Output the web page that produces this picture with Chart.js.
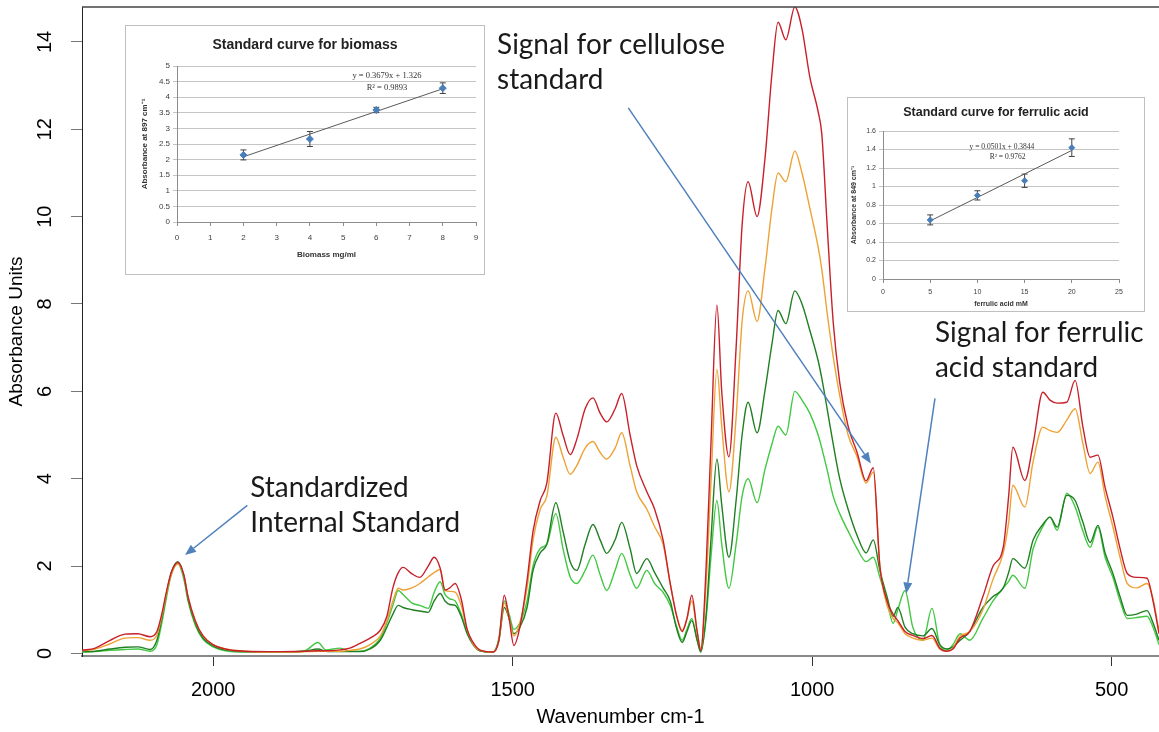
<!DOCTYPE html>
<html><head><meta charset="utf-8">
<script src="https://cdn.jsdelivr.net/npm/chart.js@4.4.1/dist/chart.umd.min.js"></script>
<style>
html,body{margin:0;padding:0;background:#fff;overflow:hidden}
#wrap{position:relative;width:1159px;height:732px}
canvas{position:absolute;display:block}
</style></head><body>
<div id="wrap">
<canvas id="main" width="1159" height="732" style="left:0;top:0"></canvas>
<canvas id="bio" width="360" height="250" style="left:125px;top:25px"></canvas>
<canvas id="fer" width="298" height="215" style="left:847px;top:97px"></canvas>
</div>
<script>
// ---------- main spectrum data (wavenumber, cm-1) ----------
const wavenumbers = [
 2219,2197,2172,2147,2126,2105,2094,2085,2079,2070,
 2059,2049,2042,2030,2017,2000,1980,1947,1888,1847,
 1825,1812,1788,1772,1755,1738,1721,1710,1700,1691,
 1683,1668,1655,1641,1631,1621,1613,1605,1596,1586,
 1576,1566,1555,1533,1523,1514,1506,1498,1488,1476,
 1466,1454,1443,1428,1416,1404,1393,1379,1366,1354,
 1343,1329,1318,1304,1293,1276,1263,1249,1237,1227,
 1217,1209,1201,1192,1186,1177,1169,1159,1151,1139,
 1127,1117,1107,1092,1079,1067,1057,1044,1029,1017,
 1004,990,984,975,965,954,940,925,910,898,
 887,875,865,857,845,832,815,800,787,775,
 765,753,737,715,698,681,672,665,645,631,
 615,603,591,575,561,548,536,523,511,498,
 486,474,458,441,431,421];
const redSpectrum = [
 0.07,0.12,0.30,0.44,0.45,0.38,0.50,0.95,1.35,1.85,
 2.08,1.80,1.30,0.75,0.40,0.20,0.10,0.05,0.04,0.05,
 0.06,0.06,0.08,0.12,0.23,0.35,0.53,0.85,1.50,1.85,
 1.97,1.82,1.74,2.00,2.20,1.95,1.45,1.50,1.60,1.25,
 0.55,0.25,0.08,0.03,0.30,1.33,0.80,0.18,0.60,1.67,
 2.80,3.50,3.90,5.50,5.00,4.55,4.90,5.60,5.85,5.50,
 5.30,5.60,5.95,5.00,4.30,3.70,3.30,2.60,1.60,0.90,
 0.50,0.80,1.33,0.50,0.07,2.00,4.80,7.97,6.00,4.50,
 7.00,9.80,10.80,10.00,11.30,13.30,14.45,14.05,14.80,14.30,
 13.20,12.40,11.90,9.80,7.60,6.20,5.20,4.60,3.95,4.25,
 2.00,1.20,0.90,0.75,0.50,0.41,0.34,0.41,0.12,0.05,
 0.10,0.35,0.50,1.30,2.00,2.43,3.60,4.72,3.96,4.80,
 5.98,5.80,5.73,5.75,6.25,5.18,4.49,4.54,3.80,3.12,
 2.40,1.83,1.74,1.72,1.20,0.45];
const orangeSpectrum = [
 0.06,0.10,0.22,0.35,0.36,0.30,0.42,0.90,1.30,1.80,
 2.05,1.78,1.30,0.75,0.40,0.20,0.10,0.05,0.03,0.04,
 0.05,0.05,0.05,0.07,0.10,0.20,0.40,0.75,1.20,1.49,
 1.45,1.50,1.60,1.75,1.85,1.92,1.44,1.42,1.40,1.10,
 0.55,0.22,0.07,0.03,0.30,1.15,0.80,0.40,0.70,1.50,
 2.60,3.30,3.60,4.95,4.50,4.10,4.30,4.70,4.85,4.60,
 4.45,4.70,5.05,4.30,3.70,3.30,2.90,2.50,1.60,0.90,
 0.53,0.80,1.20,0.50,0.10,1.60,3.90,6.50,5.20,3.70,
 5.40,7.60,8.30,7.60,8.80,10.20,11.00,10.80,11.50,11.00,
 10.20,9.30,8.80,7.80,6.80,5.90,5.00,4.50,3.90,4.15,
 2.00,1.10,0.80,0.70,0.45,0.35,0.30,0.35,0.10,0.05,
 0.12,0.40,0.50,1.00,1.70,2.30,3.00,3.85,3.35,4.40,
 5.18,5.10,5.06,5.34,5.60,4.80,4.12,4.38,3.60,2.90,
 2.20,1.60,1.50,1.60,1.25,0.50];
const darkGreenSpectrum = [
 0.04,0.05,0.10,0.14,0.15,0.09,0.30,0.85,1.30,1.85,
 2.10,1.78,1.25,0.70,0.35,0.17,0.08,0.04,0.03,0.05,
 0.10,0.05,0.04,0.04,0.04,0.10,0.30,0.60,0.90,1.10,
 1.05,1.00,0.97,0.94,1.20,1.37,1.20,1.12,1.10,0.85,
 0.45,0.20,0.06,0.03,0.30,1.05,0.80,0.45,0.60,1.05,
 1.90,2.30,2.50,3.45,2.80,2.10,1.90,2.50,2.95,2.60,
 2.29,2.60,3.00,2.40,1.83,2.17,1.85,1.50,1.20,0.60,
 0.25,0.50,0.75,0.30,0.03,0.90,2.60,4.45,3.40,2.20,
 3.50,5.00,5.75,5.05,6.00,7.10,7.85,7.55,8.30,8.00,
 7.40,6.70,6.30,5.60,4.80,4.00,3.30,2.70,2.30,2.60,
 1.90,1.30,0.85,1.05,0.60,0.45,0.40,0.57,0.20,0.10,
 0.15,0.30,0.50,1.05,1.30,1.50,1.85,2.17,1.95,2.60,
 2.95,3.12,2.89,3.62,3.50,3.00,2.54,2.93,2.30,1.83,
 1.30,0.87,0.90,0.98,0.70,0.30];
const lightGreenSpectrum = [
 0.03,0.04,0.07,0.09,0.10,0.05,0.20,0.75,1.20,1.80,
 2.05,1.70,1.20,0.65,0.32,0.15,0.06,0.03,0.03,0.06,
 0.25,0.08,0.12,0.05,0.05,0.12,0.35,0.70,1.10,1.44,
 1.35,1.15,1.10,1.03,1.40,1.64,1.35,1.25,1.20,0.90,
 0.50,0.20,0.06,0.03,0.35,1.20,0.90,0.55,0.70,1.20,
 2.00,2.40,2.50,3.20,2.40,1.75,1.60,1.90,2.25,1.80,
 1.44,1.90,2.29,1.80,1.49,1.90,1.60,1.40,1.10,0.65,
 0.30,0.55,0.80,0.30,0.05,0.80,2.20,3.50,2.50,1.49,
 2.50,3.60,4.00,3.45,4.20,4.80,5.20,5.00,6.00,5.80,
 5.50,5.00,4.70,4.20,3.60,3.20,2.80,2.40,2.10,2.20,
 1.74,1.20,0.69,1.00,1.44,0.60,0.30,1.03,0.20,0.07,
 0.20,0.45,0.30,0.80,1.20,1.50,1.65,1.79,1.49,2.40,
 2.90,3.12,2.82,3.67,3.35,2.80,2.43,2.89,2.20,1.74,
 1.20,0.80,0.82,0.85,0.60,0.20];
const xTickValues = [2000,1500,1000,500];
const yTickValues = [0,2,4,6,8,10,12,14];

// annotations (text + arrows), anchored in data units (wavenumber, absorbance)
const annotationLines = [['Signal for cellulose','standard'],['Standardized','Internal Standard'],['Signal for ferrulic','acid standard']];
const annotationAt = [[1526,13.72],[1938,3.57],[795,7.12]];
const arrowFrom = [[1307,12.49],[1943,3.39],[795,5.84]];
const arrowTo = [[902,4.35],[2047,2.25],[843,1.37]];

// ---------- inset: biomass ----------
const biomassConc = [2,4,6,8];
const biomassAbs = [2.15,2.66,3.59,4.29];
const biomassErr = [0.16,0.24,0.085,0.17];
const biomassTrendX = [2,8];
const biomassTrendY = [2.09,4.27];
const biomassXTicks = [0,1,2,3,4,5,6,7,8,9];
const biomassYTicks = [0,0.5,1,1.5,2,2.5,3,3.5,4,4.5,5];
const biomassEquation = ['y = 0.3679x + 1.326','R² = 0.9893'];
const biomassEquationAt = [[6.32,4.70],[6.32,4.31]];

// ---------- inset: ferulic acid ----------
const ferulicConc = [5,10,15,20];
const ferulicAbs = [0.639,0.904,1.062,1.42];
const ferulicErr = [0.054,0.05,0.072,0.095];
const ferulicTrendX = [5,20];
const ferulicTrendY = [0.628,1.39];
const ferulicXTicks = [0,5,10,15,20,25];
const ferulicYTicks = [0,0.2,0.4,0.6,0.8,1,1.2,1.4,1.6];
const ferulicEquation = ['y = 0.0501x + 0.3844','R² = 0.9762'];
const ferulicEquationAt = [[12.6,1.427],[13.2,1.319]];

// ================= main chart =================
const SANS = 'Liberation Sans, Arial, sans-serif';
const plainNum = v => String(Math.round(v*1000)/1000);
function series(label, vals, color){
  return {label, data: wavenumbers.map((w,i)=>({x:w,y:vals[i]})), borderColor:color, borderWidth:1.4,
    pointRadius:0, fill:false, cubicInterpolationMode:'monotone'};
}
const mainOverlay = {
  id:'mainOverlay',
  afterDraw(chart){
    const {ctx, chartArea:a, scales:{x, y}} = chart;
    ctx.save();
    ctx.strokeStyle = '#444'; ctx.lineWidth = 1.5;
    ctx.beginPath(); ctx.moveTo(a.left, a.top); ctx.lineTo(a.right, a.top); ctx.stroke();
    // arrows
    ctx.strokeStyle = '#4f81bd'; ctx.fillStyle = '#4f81bd'; ctx.lineWidth = 1.5;
    arrowFrom.forEach((f,i)=>{
      const x1 = x.getPixelForValue(f[0]), y1 = y.getPixelForValue(f[1]);
      const x2 = x.getPixelForValue(arrowTo[i][0]), y2 = y.getPixelForValue(arrowTo[i][1]);
      const ang = Math.atan2(y2-y1, x2-x1), L = 11, W = 4.5;
      const bx = x2 - L*Math.cos(ang), by = y2 - L*Math.sin(ang);
      ctx.beginPath(); ctx.moveTo(x1,y1); ctx.lineTo(bx,by); ctx.stroke();
      ctx.beginPath(); ctx.moveTo(x2,y2);
      ctx.lineTo(bx + W*Math.sin(ang), by - W*Math.cos(ang));
      ctx.lineTo(bx - W*Math.sin(ang), by + W*Math.cos(ang));
      ctx.closePath(); ctx.fill();
    });
    // text
    ctx.font = '30px Lato';
    const k = 228 / ctx.measureText('Signal for cellulose').width;
    const fs = 30 * k;
    ctx.font = fs.toFixed(2) + 'px Lato';
    ctx.fillStyle = '#1a1a1a'; ctx.textAlign = 'left'; ctx.textBaseline = 'alphabetic';
    annotationLines.forEach((lines,i)=>{
      const px = x.getPixelForValue(annotationAt[i][0]), py = y.getPixelForValue(annotationAt[i][1]);
      lines.forEach((t,j)=> ctx.fillText(t, px, py + j*35));
    });
    ctx.restore();
  }
};
new Chart(document.getElementById('main'), {
  type:'line',
  data:{datasets:[
    series('Sample 1', redSpectrum, '#c8202a'),
    series('Sample 2', orangeSpectrum, '#eea236'),
    series('Sample 3', darkGreenSpectrum, '#1f7f22'),
    series('Sample 4', lightGreenSpectrum, '#42c842')
  ]},
  options:{
    responsive:false, animation:false, events:[],
    layout:{padding:{top:7,left:0,right:0,bottom:0}},
    plugins:{legend:{display:false}, tooltip:{enabled:false}},
    scales:{
      x:{type:'linear', reverse:true, min:421, max:2219,
        afterBuildTicks:s=>{ s.ticks = xTickValues.map(v=>({value:v})); },
        afterFit:s=>{ s.height = 76; s.paddingLeft = 0; s.paddingRight = 0; },
        grid:{drawOnChartArea:false, drawTicks:true, tickLength:10, color:'#333'},
        border:{display:true, color:'#888', width:2},
        ticks:{font:{family:SANS, size:20}, color:'#000', padding:12, maxRotation:0, autoSkip:false, callback:plainNum},
        title:{display:true, text:'Wavenumber cm-1', font:{family:SANS, size:20, lineHeight:1}, color:'#000', padding:{top:0,bottom:5}}
      },
      y:{type:'linear', min:-0.06, max:14.8,
        afterBuildTicks:s=>{ s.ticks = yTickValues.map(v=>({value:v})); },
        afterFit:s=>{ s.width = 82; s.paddingTop = 0; s.paddingBottom = 0; },
        grid:{drawOnChartArea:false, drawTicks:true, tickLength:11, color:'#777'},
        border:{display:true, color:'#222', width:1},
        ticks:{font:{family:SANS, size:20}, color:'#000', padding:14, minRotation:90, maxRotation:90, crossAlign:'center', autoSkip:false, callback:plainNum},
        title:{display:true, text:'Absorbance Units', font:{family:SANS, size:19, lineHeight:1}, color:'#000', padding:{top:7,bottom:0}}
      }
    }
  },
  plugins:[mainOverlay]
});

// ================= insets =================
function inset(id, o){
  const frame = {id:'frame',
    beforeDraw(c){ const ctx=c.ctx; ctx.save(); ctx.fillStyle='#fff'; ctx.fillRect(0,0,c.width,c.height); ctx.restore(); },
    beforeDatasetsDraw(c){
      const ctx=c.ctx, xs=c.scales.x, ys=c.scales.y;
      ctx.save(); ctx.strokeStyle='#404040'; ctx.lineWidth=1;
      o.xs.forEach((xv,i)=>{
        const px=xs.getPixelForValue(xv), t=ys.getPixelForValue(o.ys[i]+o.err[i]), b=ys.getPixelForValue(o.ys[i]-o.err[i]);
        ctx.beginPath(); ctx.moveTo(px,t); ctx.lineTo(px,b);
        ctx.moveTo(px-3,t); ctx.lineTo(px+3,t); ctx.moveTo(px-3,b); ctx.lineTo(px+3,b); ctx.stroke();
      });
      ctx.restore();
    },
    afterDraw(c){
      const ctx=c.ctx, xs=c.scales.x, ys=c.scales.y;
      ctx.save();
      ctx.strokeStyle='#bfbfbf'; ctx.lineWidth=1; ctx.strokeRect(0.5,0.5,c.width-1,c.height-1);
      ctx.fillStyle='#333'; ctx.font=o.eqFont; ctx.textAlign='center'; ctx.textBaseline='middle';
      o.eq.forEach((t,i)=> ctx.fillText(t, xs.getPixelForValue(o.eqAt[i][0]), ys.getPixelForValue(o.eqAt[i][1])));
      ctx.restore();
    }
  };
  return new Chart(document.getElementById(id), {
    type:'scatter',
    data:{datasets:[
      {data:o.xs.map((x,i)=>({x,y:o.ys[i]})), pointStyle:'rectRot', pointRadius:o.pr, backgroundColor:'#4a7ebb', borderColor:'#4a7ebb', order:0},
      {type:'line', data:o.tx.map((x,i)=>({x,y:o.ty[i]})), borderColor:'#5a5a5a', borderWidth:1, pointRadius:0, order:1}
    ]},
    options:{
      responsive:false, animation:false, events:[],
      layout:{padding:0},
      plugins:{legend:{display:false}, tooltip:{enabled:false},
        title:{display:true, text:o.title, font:{family:SANS, size:o.titleSize, weight:'bold', lineHeight:1}, color:'#222', padding:{top:o.titleTop,bottom:o.titleBottom}}},
      scales:{
        x:{type:'linear', min:o.xTicks[0], max:o.xTicks[o.xTicks.length-1],
          afterBuildTicks:s=>{ s.ticks = o.xTicks.map(v=>({value:v})); },
          afterFit:s=>{ s.height=o.xH; s.paddingLeft=0; s.paddingRight=0; },
          grid:{drawOnChartArea:false, tickLength:4, color:'#8c8c8c'},
          border:{display:true, color:'#8c8c8c'},
          ticks:{font:{family:SANS, size:o.tickSize}, color:'#404040', padding:o.xTickPad, maxRotation:0, autoSkip:false, callback:plainNum},
          title:{display:true, text:o.xTitle, font:{family:SANS, size:o.tickSize, weight:'bold', lineHeight:1}, color:'#333', padding:{top:0,bottom:o.xTitlePad}}
        },
        y:{type:'linear', min:o.yTicks[0], max:o.yTicks[o.yTicks.length-1],
          afterBuildTicks:s=>{ s.ticks = o.yTicks.map(v=>({value:v})); },
          afterFit:s=>{ s.width=o.yW; s.paddingTop=0; s.paddingBottom=0; },
          grid:{drawOnChartArea:true, tickLength:4, color:'#c4c4c4'},
          border:{display:true, color:'#8c8c8c'},
          ticks:{font:{family:SANS, size:o.tickSize}, color:'#404040', padding:3, autoSkip:false, callback:plainNum},
          title:{display:true, text:o.yTitle, font:{family:SANS, size:o.tickSize, weight:'bold', lineHeight:1}, color:'#333', padding:{top:o.yTitlePad,bottom:0}}
        },
        spacer:{type:'linear', position:'right', min:0, max:1,
          afterBuildTicks:s=>{ s.ticks = []; },
          afterFit:s=>{ s.width=o.padR; s.paddingTop=0; s.paddingBottom=0; },
          grid:{display:false, drawTicks:false}, border:{display:false}, ticks:{display:false}
        }
      }
    },
    plugins:[frame]
  });
}
inset('bio', {xs:biomassConc, ys:biomassAbs, err:biomassErr, tx:biomassTrendX, ty:biomassTrendY,
  xTicks:biomassXTicks, yTicks:biomassYTicks, eq:biomassEquation, eqAt:biomassEquationAt, eqFont:'8.5px Liberation Serif',
  title:'Standard curve for biomass', titleSize:14, titleTop:13, titleBottom:14, padR:9, xH:53, yW:52,
  tickSize:8, xTickPad:7, xTitle:'Biomass mg/ml', xTitlePad:16, yTitle:'Absorbance at 897 cm⁻¹', yTitlePad:16, pr:3.5});
inset('fer', {xs:ferulicConc, ys:ferulicAbs, err:ferulicErr, tx:ferulicTrendX, ty:ferulicTrendY,
  xTicks:ferulicXTicks, yTicks:ferulicYTicks, eq:ferulicEquation, eqAt:ferulicEquationAt, eqFont:'7.5px Liberation Serif',
  title:'Standard curve for ferrulic acid', titleSize:12.5, titleTop:9, titleBottom:12.5, padR:26, xH:33, yW:36,
  tickSize:7, xTickPad:5, xTitle:'ferrulic acid mM', xTitlePad:4, yTitle:'Absorbance at 849 cm⁻¹', yTitlePad:4, pr:3});
</script>
</body></html>
